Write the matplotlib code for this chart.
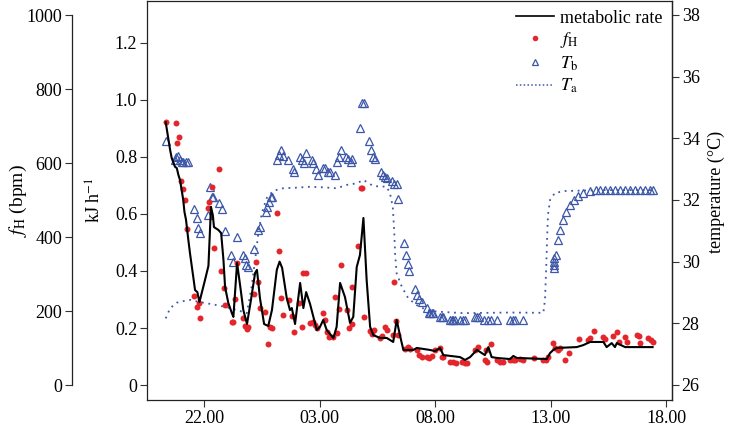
import numpy as np
import matplotlib.pyplot as plt
from matplotlib.lines import Line2D

plt.rcParams['font.family'] = ['Liberation Serif', 'DejaVu Serif']
plt.rcParams['mathtext.fontset'] = 'stix'

# time in hours (22 = 22.00, 27 = 03.00 next day, ...)
met_t = [20.34, 20.53, 20.60, 20.74, 20.82, 20.89, 20.96, 21.03, 21.10, 21.15,
         21.22, 21.32, 21.39, 21.54, 21.61, 21.71, 21.80, 21.90, 22.04, 22.19,
         22.30, 22.38, 22.43, 22.62, 22.74, 22.84, 22.91, 23.05, 23.20, 23.27,
         23.43, 23.60, 23.70, 23.86, 24.03, 24.21, 24.29, 24.42, 24.60, 24.78,
         24.94, 25.15, 25.27, 25.38, 25.58, 25.72, 25.80, 25.94, 26.16, 26.30,
         26.42, 26.59, 26.88, 27.02, 27.16, 27.31, 27.60, 27.74, 27.89, 28.10,
         28.32, 28.46, 28.61, 28.75, 28.90, 29.04, 29.19, 29.33, 29.62, 29.91,
         30.19, 30.34, 30.48, 30.63, 31.06, 31.21, 31.78, 32.00, 32.22, 32.36,
         33.08, 33.30, 33.52, 33.81, 33.95, 34.16, 34.31, 34.45, 34.67, 35.25,
         35.39, 35.54, 36.84, 36.98, 37.12, 37.27, 38.13, 38.42, 38.71, 39.29,
         39.43, 39.65, 39.79, 39.87, 40.23, 41.42]
met_kj = [0.922, 0.825, 0.796, 0.766, 0.761, 0.737, 0.719, 0.684, 0.649, 0.608,
          0.579, 0.509, 0.463, 0.375, 0.333, 0.326, 0.291, 0.323, 0.368, 0.418,
          0.625, 0.596, 0.554, 0.544, 0.533, 0.439, 0.344, 0.288, 0.253, 0.239,
          0.428, 0.326, 0.263, 0.214, 0.298, 0.393, 0.404, 0.305, 0.214, 0.207,
          0.263, 0.404, 0.433, 0.411, 0.305, 0.263, 0.270, 0.214, 0.358, 0.270,
          0.326, 0.284, 0.193, 0.204, 0.228, 0.193, 0.165, 0.204, 0.358, 0.309,
          0.218, 0.239, 0.414, 0.456, 0.586, 0.368, 0.204, 0.175, 0.165, 0.165,
          0.151, 0.228, 0.175, 0.123, 0.123, 0.130, 0.123, 0.119, 0.130, 0.105,
          0.098, 0.088, 0.098, 0.123, 0.116, 0.105, 0.133, 0.098, 0.095, 0.091,
          0.102, 0.095, 0.091, 0.112, 0.123, 0.130, 0.133, 0.140, 0.151, 0.151,
          0.133, 0.147, 0.133, 0.147, 0.133, 0.133]

fh_t = [20.34, 20.77, 20.84, 20.93, 21.00, 21.10, 21.18, 21.26, 21.58, 21.68,
        21.77, 21.83, 22.17, 22.23, 22.33, 22.43, 22.66, 22.75, 22.87, 22.92,
        23.20, 23.27, 23.34, 23.42, 23.68, 23.77, 23.85, 23.92, 24.18, 24.25,
        24.32, 24.42, 24.65, 24.76, 24.86, 24.93, 25.16, 25.26, 25.33, 25.43,
        25.68, 25.80, 25.91, 26.13, 26.26, 26.30, 26.42, 26.59, 26.72, 26.81,
        26.88, 27.15, 27.25, 27.34, 27.42, 27.57, 27.66, 27.74, 27.84, 27.91,
        28.18, 28.29, 28.39, 28.41, 28.67, 28.78, 28.85, 28.93, 29.19, 29.26,
        29.36, 29.62, 29.72, 29.84, 29.91, 30.17, 30.24, 30.33, 30.41, 30.68,
        30.83, 30.92, 31.20, 31.29, 31.42, 31.64, 31.76, 31.87, 32.00, 32.22,
        32.29, 32.36, 32.65, 32.79, 32.91, 33.16, 33.30, 33.40, 33.73, 33.87,
        34.16, 34.24, 34.22, 34.42, 34.67, 34.81, 34.93, 35.25, 35.36, 35.46,
        35.68, 35.82, 36.30, 36.69, 36.81, 36.91, 37.12, 37.19, 37.34, 37.41,
        37.63, 37.81, 38.23, 38.64, 38.71, 38.88, 39.26, 39.36, 39.72, 39.89,
        39.98, 40.23, 40.33, 40.73, 40.85, 40.87, 41.23, 41.34, 41.42]
fh_bpm = [712, 707, 655, 671, 551, 529, 500, 421, 241, 212,
          221, 180, 478, 495, 534, 370, 584, 309, 263, 216,
          171, 171, 232, 329, 180, 159, 151, 158, 245, 333,
          278, 207, 198, 111, 158, 153, 466, 363, 236, 189,
          230, 186, 142, 221, 157, 302, 302, 168, 171, 162,
          153, 195, 176, 142, 129, 129, 237, 140, 205, 324,
          203, 155, 164, 266, 376, 532, 532, 183, 147, 138,
          149, 127, 132, 158, 149, 134, 278, 173, 135, 97,
          104, 96, 95, 81, 76, 76, 73, 78, 95, 99,
          76, 75, 63, 63, 60, 63, 59, 60, 95, 102,
          68, 63, 95, 110, 68, 63, 63, 68, 68, 68,
          69, 68, 72, 68, 68, 76, 113, 99, 95, 99,
          68, 86, 124, 122, 126, 146, 129, 124, 132, 144,
          117, 129, 117, 135, 132, 114, 126, 122, 117]

tb_t = [20.34, 20.74, 20.79, 20.89, 20.96, 21.03, 21.10, 21.21, 21.29, 21.58,
        21.68, 21.75, 21.83, 22.19, 22.26, 22.33, 22.40, 22.66, 22.77, 22.91,
        23.16, 23.27, 23.42, 23.68, 23.77, 23.82, 23.92, 24.16, 24.35, 24.42,
        24.68, 24.74, 24.81, 24.90, 24.96, 25.17, 25.26, 25.33, 25.43, 25.65,
        25.84, 25.90, 26.16, 26.26, 26.33, 26.42, 26.66, 26.73, 26.84, 26.92,
        27.14, 27.24, 27.38, 27.45, 27.66, 27.74, 27.84, 27.92, 28.15, 28.25,
        28.35, 28.42, 28.75, 28.85, 28.93, 29.16, 29.23, 29.30, 29.40, 29.65,
        29.73, 29.84, 29.94, 30.15, 30.24, 30.34, 30.41, 30.66, 30.74, 30.82,
        30.89, 31.13, 31.23, 31.32, 31.42, 31.64, 31.72, 31.78, 31.86, 31.93,
        32.22, 32.29, 32.36, 32.65, 32.72, 32.79, 32.87, 33.08, 33.20, 33.30,
        33.73, 33.83, 33.92, 34.12, 34.31, 34.41, 34.67, 35.25, 35.36, 35.46,
        35.80, 37.13, 37.13, 37.13, 37.15, 37.24, 37.32, 37.41, 37.54, 37.67,
        37.84, 38.02, 38.19, 38.41, 38.71, 38.97, 39.14, 39.35, 39.57, 39.78,
        40.00, 40.22, 40.43, 40.65, 40.87, 41.08, 41.30, 41.45]
tb_c = [33.92, 33.30, 33.41, 33.43, 33.30, 33.22, 33.22, 33.22, 33.22, 31.71,
        31.41, 31.10, 30.92, 31.51, 32.41, 32.11, 32.11, 31.91, 31.70, 31.00,
        30.22, 30.00, 30.81, 30.22, 30.11, 29.89, 29.82, 30.41, 31.03, 31.12,
        31.60, 31.78, 31.95, 32.11, 32.11, 33.30, 33.46, 33.62, 33.43, 33.30,
        33.02, 32.92, 33.41, 33.30, 33.21, 33.52, 33.30, 33.19, 33.01, 32.81,
        33.03, 33.03, 32.92, 32.92, 32.81, 33.24, 33.41, 33.62, 33.41, 33.32,
        33.24, 33.32, 34.33, 35.14, 35.14, 33.92, 33.62, 33.41, 33.32, 32.92,
        32.81, 32.76, 32.70, 32.63, 32.52, 32.52, 32.02, 30.62, 30.22, 29.92,
        29.71, 29.11, 28.92, 28.78, 28.69, 28.49, 28.35, 28.33, 28.33, 28.33,
        28.22, 28.22, 28.22, 28.11, 28.11, 28.11, 28.11, 28.11, 28.11, 28.11,
        28.22, 28.22, 28.22, 28.11, 28.11, 28.11, 28.11, 28.11, 28.11, 28.11,
        28.11, 29.79, 29.89, 30.00, 30.11, 30.22, 30.70, 31.03, 31.35, 31.61,
        31.84, 32.00, 32.13, 32.23, 32.29, 32.32, 32.32, 32.32, 32.32, 32.32,
        32.32, 32.32, 32.32, 32.32, 32.32, 32.32, 32.32, 32.32]

ta_t = [20.34, 20.53, 20.82, 21.10, 21.39, 21.75, 22.12, 22.55, 22.98, 23.42,
        23.85, 24.06, 24.21, 24.35, 24.50, 24.71, 25.00, 25.43, 26.01, 26.59,
        27.16, 27.74, 28.18, 28.61, 28.90, 29.33, 29.91, 30.05, 30.17, 30.23,
        30.27, 30.34, 30.56, 30.84, 31.21, 31.64, 32.07, 33.23, 35.25, 36.69,
        36.76, 36.81, 36.85, 36.89, 36.98, 37.19, 37.63, 39.14, 41.45]
ta_c = [28.16, 28.49, 28.67, 28.72, 28.76, 28.70, 28.65, 28.59, 28.52, 28.43,
        28.33, 29.19, 30.05, 30.92, 31.57, 32.06, 32.30, 32.38, 32.40, 32.43,
        32.41, 32.38, 32.49, 32.54, 32.65, 32.45, 32.43, 32.22, 31.78, 31.03,
        30.27, 29.62, 29.19, 28.81, 28.59, 28.43, 28.38, 28.33, 28.35, 28.34,
        28.76, 29.73, 30.70, 31.51, 32.00, 32.23, 32.29, 32.32, 32.32]

hour_ticks = [22, 27, 32, 37, 42]
hour_labels = ['22.00', '03.00', '08.00', '13.00', '18.00']

red = '#e4262c'
blue = '#3d57a8'
fs = 13

fig = plt.figure(figsize=(7.31, 4.30), dpi=100)
ax = fig.add_axes([147 / 731, 30 / 430, 525 / 731, 399.5 / 430])
ax_t = ax.twinx()
ax_f = ax.twinx()

# temperature
ax_t.plot(ta_t, ta_c, color=blue, linestyle=(0, (1, 2.6)), lw=1.3)
ax_t.plot(tb_t, tb_c, linestyle='none', marker='^', ms=6, mfc='none',
          mec=blue, mew=0.9)
# heart rate
ax_f.plot(fh_t, fh_bpm, linestyle='none', marker='o', ms=4.3, color=red, mec='none')
# metabolic rate on top
ax.set_zorder(3)
ax.patch.set_visible(False)
ax.plot(met_t, met_kj, color='black', lw=1.5)

ax.set_xlim(19.53, 42.26)
ax.set_ylim(-0.0526, 1.349)
ax_t.set_ylim(25.513, 38.47)
ax_f.set_ylim(-40.5, 1039.2)

ax.set_xticks(hour_ticks)
ax.set_xticklabels(hour_labels)
ax.set_yticks([0, 0.2, 0.4, 0.6, 0.8, 1.0, 1.2])
ax.set_yticklabels(['0', '0.2', '0.4', '0.6', '0.8', '1.0', '1.2'])
ax_t.set_yticks([26, 28, 30, 32, 34, 36, 38])
ax_f.set_yticks([0, 200, 400, 600, 800, 1000])

for a in (ax, ax_t, ax_f):
    a.tick_params(labelsize=fs, direction='out', length=5, width=0.8, pad=2,
                  color='#333333')
    for s in a.spines.values():
        s.set_linewidth(0.9)
        s.set_color('#222222')

for s in ['top', 'bottom', 'left']:
    ax_t.spines[s].set_visible(False)
for s in ['top', 'bottom', 'right']:
    ax_f.spines[s].set_visible(False)
ax_f.spines['left'].set_visible(True)
ax_f.spines['left'].set_position(('axes', -0.143))
ax_f.spines['left'].set_bounds(0, 1000)
ax_f.yaxis.set_ticks_position('left')
ax_f.yaxis.set_label_position('left')

ax.set_ylabel('kJ h$^{-1}$', fontsize=fs)
ax.yaxis.set_label_coords(-0.08, 0.5)
ax_f.set_ylabel('$f_{\\mathrm{H}}$ (bpm)', fontsize=fs + 1)
ax_f.yaxis.set_label_coords(-0.225, 0.5)
ax_t.set_ylabel('temperature (\u00b0C)', fontsize=fs)
ax_t.yaxis.set_label_coords(1.068, 0.52)

handles = [
    Line2D([], [], color='black', lw=1.2),
    Line2D([], [], linestyle='none', marker='o', ms=4, color=red, mec='none'),
    Line2D([], [], linestyle='none', marker='^', ms=5, mfc='none', mec=blue, mew=0.9),
    Line2D([], [], color=blue, linestyle=(0, (1, 1.5)), lw=1.1),
]
labels = ['metabolic rate', '$f_{\\mathrm{H}}$', '$T_{\\mathrm{b}}$', '$T_{\\mathrm{a}}$']
ax.legend(handles, labels, loc='upper right', frameon=False, fontsize=fs,
          handlelength=2.1, handletextpad=0.35, labelspacing=0.22,
          borderaxespad=0.2, borderpad=0.3)

fig.savefig('out.png', dpi=100)
